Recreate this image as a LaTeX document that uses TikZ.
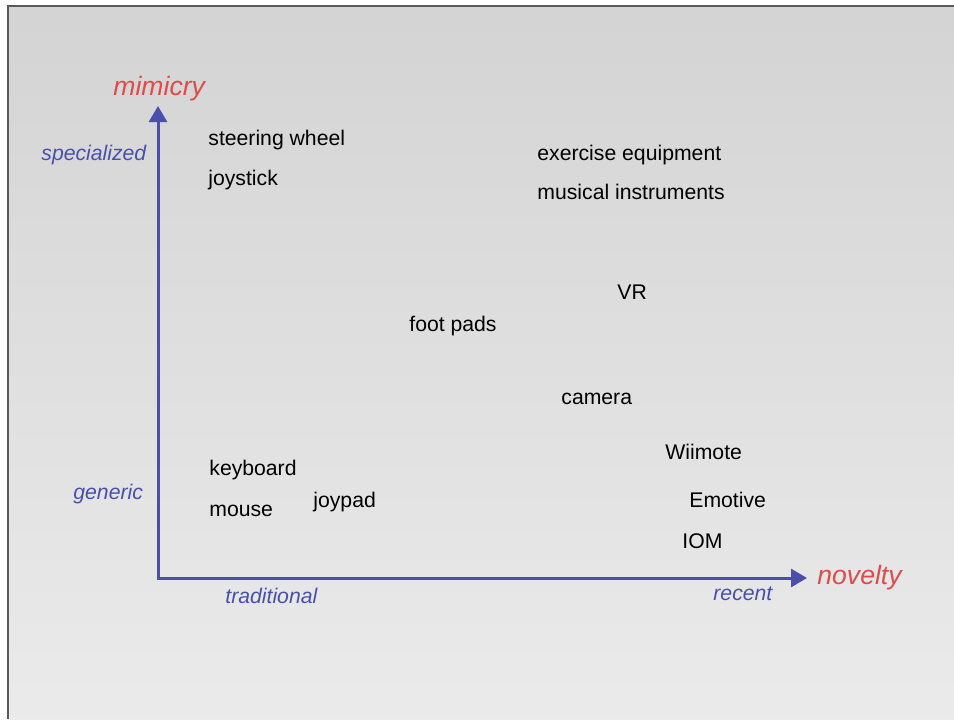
\documentclass[tikz,border=0pt]{standalone}
\usepackage{fontspec}
\setmainfont{Liberation Sans}
\usetikzlibrary{arrows.meta}

\definecolor{axisblue}{HTML}{4A4FAE}
\definecolor{axisred}{HTML}{DF4B4B}

\begin{document}
\begin{tikzpicture}[x=0.5pt, y=-0.5pt]
    \tikzset{device/.style={anchor=base west, inner sep=0pt, text=black, font=\fontsize{10.6}{12}\selectfont},
             level/.style={anchor=base west, inner sep=0pt, text=axisblue, font=\fontsize{10.6}{12}\selectfont\itshape},
             axisname/.style={anchor=base west, inner sep=0pt, text=axisred, font=\fontsize{13.3}{15}\selectfont\itshape},
             axis/.style={draw=axisblue, line width=1.5pt, line join=miter, {Triangle[length=8pt,width=9pt]}-{Triangle[length=8pt,width=9pt]}}};
    \useasboundingbox (0,0) rectangle (954,719);
    \shade[top color=black!17, bottom color=black!8] (8,6) rectangle (954,719);
    \draw[black!65, line width=1pt] (8,719) -- (8,6) -- (954,6);

    % axes
    \coordinate (origin) at (158,578);
    \coordinate (ytip) at (158,106);
    \coordinate (xtip) at (807,578);
    \draw[axis] (ytip) -- (origin) -- (xtip);

    \node[axisname] (mimicry) at (113,95) {mimicry};
    \node[axisname] (novelty) at (817,584) {novelty};
    \node[level] (specialized) at (41,160) {specialized};
    \node[level] (generic) at (73,499) {generic};
    \node[level] (traditional) at (225,603) {traditional};
    \node[level] (recent) at (713,600) {recent};

    % devices
    \node[device] (wheel) at (208,145) {steering wheel};
    \node[device] (joystick) at (208,185) {joystick};
    \node[device] (exercise) at (537,160) {exercise equipment};
    \node[device] (music) at (537,199) {musical instruments};
    \node[device] (vr) at (617,299) {VR};
    \node[device] (footpads) at (409,331) {foot pads};
    \node[device] (camera) at (561,404) {camera};
    \node[device] (wiimote) at (665,459) {Wiimote};
    \node[device] (keyboard) at (209,475) {keyboard};
    \node[device] (emotive) at (689,507) {Emotive};
    \node[device] (joypad) at (313,507) {joypad};
    \node[device] (mouse) at (209,516) {mouse};
    \node[device] (iom) at (682,548) {IOM};
\end{tikzpicture}
\end{document}
